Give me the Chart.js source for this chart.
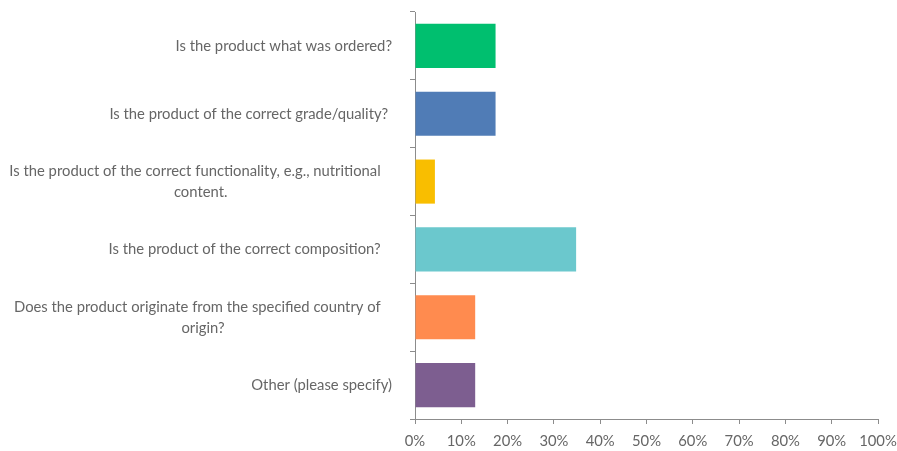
<!DOCTYPE html>
<html>
<head>
<meta charset="utf-8">
<script src="https://cdn.jsdelivr.net/npm/chart.js@4"></script>
<style>
  html, body { margin: 0; padding: 0; background: #fff; }
  #wrap { width: 897px; height: 451px; }
</style>
</head>
<body>
<div id="wrap"><canvas id="chart" width="897" height="451"></canvas></div>
<script>
const questions = [
    ['Is the product what was ordered?'],
    ['Is the product of the correct grade/quality? '],
    ['Is the product of the correct functionality, e.g., nutritional   ', 'content.'],
    ['Is the product of the correct composition?   '],
    ['Does the product originate from the specified country of   ', 'origin?'],
    ['Other (please specify)']
];
const shares = [17.4, 17.4, 4.3, 34.8, 13.0, 13.0];
const barColors = ['#00BF6F', '#507CB6', '#F9BE00', '#6BC8CD', '#FF8B4F', '#7D5E90'];
const xTicks = [0, 10, 20, 30, 40, 50, 60, 70, 80, 90, 100];

const TEXT = '#666666';
const AXIS = '#8c8c8c';
const FONT = { family: 'Lato, "Open Sans", sans-serif', size: 14.8 };

// category labels: each block right-aligned to the axis, lines centred within the block
const questionLabels = {
    id: 'questionLabels',
    afterDraw(chart) {
        const ctx = chart.ctx;
        const yScale = chart.scales.y;
        const right = yScale.right - 23;
        const lineH = 21;
        ctx.save();
        ctx.font = `${FONT.size}px ${FONT.family}`;
        ctx.fillStyle = TEXT;
        ctx.textAlign = 'center';
        ctx.textBaseline = 'middle';
        questions.forEach((lines, i) => {
            const yc = yScale.getPixelForTick(i);
            const w = Math.max(...lines.map(l => ctx.measureText(l).width));
            const cx = right - w / 2;
            const y0 = yc - (lines.length - 1) * lineH / 2;
            lines.forEach((l, j) => ctx.fillText(l, cx, y0 + j * lineH));
        });
        ctx.restore();
    }
};

new Chart(document.getElementById('chart'), {
    type: 'bar',
    data: {
        labels: questions.map(q => q.join(' ')),
        datasets: [{
            data: shares,
            backgroundColor: barColors,
            borderWidth: 0,
            categoryPercentage: 1,
            barPercentage: 0.65
        }]
    },
    options: {
        indexAxis: 'y',
        responsive: false,
        animation: false,
        layout: { padding: { top: 12, right: 19, left: 0, bottom: 0 } },
        plugins: {
            legend: { display: false },
            tooltip: { enabled: false }
        },
        scales: {
            x: {
                min: 0,
                max: 100,
                afterBuildTicks(scale) {
                    scale.ticks = xTicks.map(v => ({ value: v }));
                },
                afterFit(scale) {
                    scale.height = 32;
                    scale.paddingLeft = 0;
                    scale.paddingRight = 0;
                },
                border: { display: true, color: AXIS, width: 1 },
                grid: { drawOnChartArea: false, drawTicks: true, tickLength: 5, color: AXIS },
                ticks: {
                    color: TEXT,
                    font: FONT,
                    padding: 8,
                    maxRotation: 0,
                    callback: v => v + '%'
                }
            },
            y: {
                afterFit(scale) { scale.width = 415; },
                border: { display: true, color: AXIS, width: 1 },
                grid: { drawOnChartArea: false, drawTicks: true, tickLength: 5, color: AXIS, offset: true },
                ticks: { display: false }
            }
        }
    },
    plugins: [questionLabels]
});
</script>
</body>
</html>
